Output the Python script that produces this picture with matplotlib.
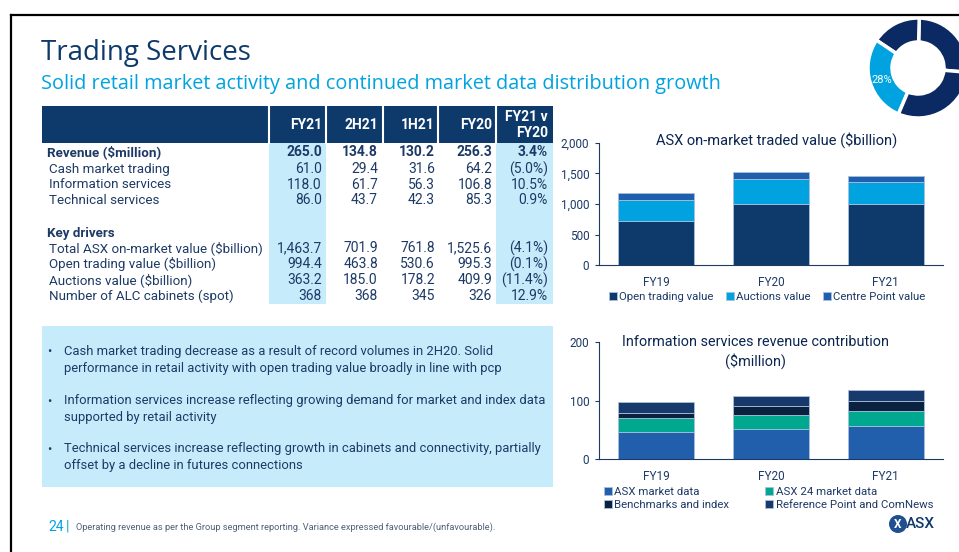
import matplotlib
matplotlib.use('Agg')
import matplotlib.pyplot as plt
from matplotlib import font_manager
from matplotlib.patches import Rectangle, Circle
from matplotlib.lines import Line2D
import numpy as np

W, H = 959, 552

installed = {f.name for f in font_manager.fontManager.ttflist}
BODY = 'Liberation Sans Narrow' if 'Liberation Sans Narrow' in installed else 'Roboto'
plt.rcParams['font.family'] = [BODY, 'DejaVu Sans']

NAVY = '#0e3a6b'
TEXT = '#1d3a66'
CYAN = '#00a3e0'
LIGHT = '#c6ecfb'

# ---- data ----
table_cols = ['FY21', '2H21', '1H21', 'FY20', 'FY21 v\nFY20']
row_labels = ['Revenue ($million)', 'Cash market trading', 'Information services',
              'Technical services', 'Key drivers', 'Total ASX on-market value ($billion)',
              'Open trading value ($billion)', 'Auctions value ($billion)',
              'Number of ALC cabinets (spot)']
col_fy21 = ['265.0', '61.0', '118.0', '86.0', '', '1,463.7', '994.4', '363.2', '368']
col_2h21 = ['134.8', '29.4', '61.7', '43.7', '', '701.9', '463.8', '185.0', '368']
col_1h21 = ['130.2', '31.6', '56.3', '42.3', '', '761.8', '530.6', '178.2', '345']
col_fy20 = ['256.3', '64.2', '106.8', '85.3', '', '1,525.6', '995.3', '409.9', '326']
col_var = ['3.4%', '(5.0%)', '10.5%', '0.9%', '', '(4.1%)', '(0.1%)', '(11.4%)', '12.9%']
bold_rows = [0, 4]

years = ['FY19', 'FY20', 'FY21']
open_trading = [720, 995.3, 994.4]
auctions = [340, 409.9, 363.2]
centre_point = [115, 120.4, 106.1]

asx_market_data = [47, 51, 56]
asx24_market_data = [23, 24, 26]
benchmarks = [9, 16, 18]
reference_point = [18, 16, 18]

segment_share = [26, 16, 28, 30]

bullets = [
    'Cash market trading decrease as a result of record volumes in 2H20. Solid\nperformance in retail activity with open trading value broadly in line with pcp',
    'Information services increase reflecting growing demand for market and index data\nsupported by retail activity',
    'Technical services increase reflecting growth in cabinets and connectivity, partially\noffset by a decline in futures connections',
]
footnote = 'Operating revenue as per the Group segment reporting. Variance expressed favourable/(unfavourable).'


def fx(x):
    return x / W


def fy(y):
    return 1 - y / H


fig = plt.figure(figsize=(W / 100, H / 100), dpi=100)

# frame lines
fig.add_artist(Line2D([fx(11), 1], [fy(15), fy(15)], color='black', lw=1.6))
fig.add_artist(Line2D([fx(11), fx(11)], [fy(15), 0], color='black', lw=1.6))

# titles
fig.text(fx(41), fy(53), 'Trading Services', fontsize=20, color=NAVY,
         family=['Open Sans', 'DejaVu Sans'], va='center', ha='left')
fig.text(fx(41), fy(84), 'Solid retail market activity and continued market data distribution growth',
         fontsize=14.3, color=CYAN, family=['Open Sans', 'DejaVu Sans'], va='center', ha='left')

# ---- table ----
fig.add_artist(Rectangle((fx(42), fy(143)), fx(553) - fx(42), fy(106) - fy(143),
                         transform=fig.transFigure, color=NAVY, lw=0))
for x0, x1 in [(269, 326), (496, 553)]:
    fig.add_artist(Rectangle((fx(x0), fy(304)), fx(x1) - fx(x0), fy(143) - fy(304),
                             transform=fig.transFigure, color=LIGHT, lw=0))
for xs in [269, 326, 383, 438, 496]:
    fig.add_artist(Line2D([fx(xs), fx(xs)], [fy(106), fy(143)], color='white', lw=1.5))

col_right = [322, 378, 435, 492, 548]
for xr, name in zip(col_right, table_cols):
    fig.text(fx(xr), fy(125), name, color='white', fontsize=10, fontweight='bold',
             ha='right', va='center', linespacing=1.25)

row_y = [152, 169, 185, 200, 233, 248, 264, 280, 296]
columns = [col_fy21, col_2h21, col_1h21, col_fy20, col_var]
for i, (lab, ry) in enumerate(zip(row_labels, row_y)):
    bold = i in bold_rows
    fig.text(fx(47 if bold else 49), fy(ry), lab, color=TEXT, fontsize=9.6,
             fontweight='bold' if bold else 'normal', ha='left', va='center')
    for xr, col in zip(col_right, columns):
        fig.text(fx(xr), fy(ry), col[i], color=TEXT, fontsize=10,
                 fontweight='bold' if bold else 'normal', ha='right', va='center')

# ---- bullet box ----
fig.add_artist(Rectangle((fx(42), fy(487)), fx(553) - fx(42), fy(326) - fy(487),
                         transform=fig.transFigure, color=LIGHT, lw=0))
for b, by in zip(bullets, [360, 409, 457]):
    fig.text(fx(47), fy(by - 8), '•', color=TEXT, fontsize=9, ha='left', va='center')
    fig.text(fx(64), fy(by), b, color=TEXT, fontsize=9.4, ha='left', va='center',
             linespacing=1.35)

# ---- chart 1 ----
x = np.arange(len(years))
ax1 = fig.add_axes([fx(599), fy(265), fx(943) - fx(599), fy(143) - fy(265)])
edge = '#a8bfdc'
b1 = ax1.bar(x, open_trading, 0.66, color='#0e3a6b', edgecolor=edge, lw=0.6)
b2 = ax1.bar(x, auctions, 0.66, bottom=open_trading, color='#00a3e0', edgecolor=edge, lw=0.6)
bot = np.array(open_trading) + np.array(auctions)
b3 = ax1.bar(x, centre_point, 0.66, bottom=bot, color='#1f5fad', edgecolor=edge, lw=0.6)
ax1.set_ylim(0, 2000)
ax1.set_yticks([0, 500, 1000, 1500, 2000])
ax1.set_yticklabels(['0', '500', '1,000', '1,500', '2,000'])
fig.text(fx(777), fy(140), 'ASX on-market traded value ($billion)', color='#0a2550',
         fontsize=10.5, ha='center', va='center')
fig.legend([b1, b2, b3], ['Open trading value', 'Auctions value', 'Centre Point value'],
           loc='center', bbox_to_anchor=(fx(767), fy(297)), ncol=3, frameon=False,
           handlelength=0.7, handleheight=0.7, handletextpad=0.2, columnspacing=1.1,
           fontsize=8.2, labelcolor=TEXT, borderpad=0)

# ---- chart 2 ----
ax2 = fig.add_axes([fx(599), fy(459), fx(943) - fx(599), fy(342) - fy(459)])
c1 = ax2.bar(x, asx_market_data, 0.66, color='#215eac', edgecolor=edge, lw=0.6)
base = np.array(asx_market_data, dtype=float)
c2 = ax2.bar(x, asx24_market_data, 0.66, bottom=base, color='#00a88f', edgecolor=edge, lw=0.6)
base += asx24_market_data
c3 = ax2.bar(x, benchmarks, 0.66, bottom=base, color='#0a2240', edgecolor=edge, lw=0.6)
base += benchmarks
c4 = ax2.bar(x, reference_point, 0.66, bottom=base, color='#17396b', edgecolor=edge, lw=0.6)
ax2.set_ylim(0, 200)
ax2.set_yticks([0, 100, 200])
fig.text(fx(755), fy(352), 'Information services revenue contribution\n($million)',
         color='#0a2550', fontsize=10.4, ha='center', va='center', linespacing=1.3)
fig.legend([c1, c3, c2, c4],
           ['ASX market data', 'Benchmarks and index', 'ASX 24 market data',
            'Reference Point and ComNews'],
           loc='upper left', bbox_to_anchor=(fx(598), fy(481)), ncol=2, frameon=False,
           handlelength=0.7, handleheight=0.7, handletextpad=0.2, columnspacing=3.2,
           fontsize=8.2, labelcolor=TEXT, borderpad=0, labelspacing=0.3)

for ax in (ax1, ax2):
    ax.set_xlim(-0.5, 2.5)
    ax.set_xticks(x)
    ax.set_xticklabels(years)
    for s in ('top', 'right'):
        ax.spines[s].set_visible(False)
    for s in ('left', 'bottom'):
        ax.spines[s].set_color('#1d3a66')
        ax.spines[s].set_linewidth(0.8)
    ax.tick_params(axis='x', length=0, pad=8, labelsize=8.5, labelcolor=TEXT)
    ax.tick_params(axis='y', length=3, width=0.8, color='#1d3a66', pad=4,
                   labelsize=8.5, labelcolor=TEXT)
    ax.set_facecolor('none')

# ---- donut ----
ax3 = fig.add_axes([fx(868), fy(118), fx(968) - fx(868), fy(18) - fy(118)])
ax3.pie(segment_share, startangle=-5, counterclock=True,
        colors=['#0b2a63', '#0b2a63', CYAN, '#0b2a63'],
        wedgeprops=dict(width=0.48, edgecolor='white', linewidth=2.5))
ax3.set_xlim(-1, 1)
ax3.set_ylim(-1, 1)
ax3.set_aspect('equal')
fig.text(fx(882), fy(80), '28%', color='white', fontsize=8, ha='center', va='center')

# ---- footer ----
fig.text(fx(48), fy(527), '24', color=CYAN, fontsize=10, ha='left', va='center')
fig.text(fx(66), fy(527), '|', color=CYAN, fontsize=10, ha='left', va='center')
fig.text(fx(76), fy(527), footnote, color='#50607a', fontsize=6.7, ha='left', va='center')

# ASX logo
fig.add_artist(Circle((898 / 100, (H - 524) / 100), 0.09, transform=fig.dpi_scale_trans,
                      color='#1f4f8f', lw=0))
fig.text(fx(898), fy(524), 'X', color='white', fontsize=8.5, fontweight='bold',
         ha='center', va='center')
fig.text(fx(906), fy(524), 'ASX', color=NAVY, fontsize=11, fontweight='medium',
         ha='left', va='center')

fig.savefig('out.png', dpi=100)
